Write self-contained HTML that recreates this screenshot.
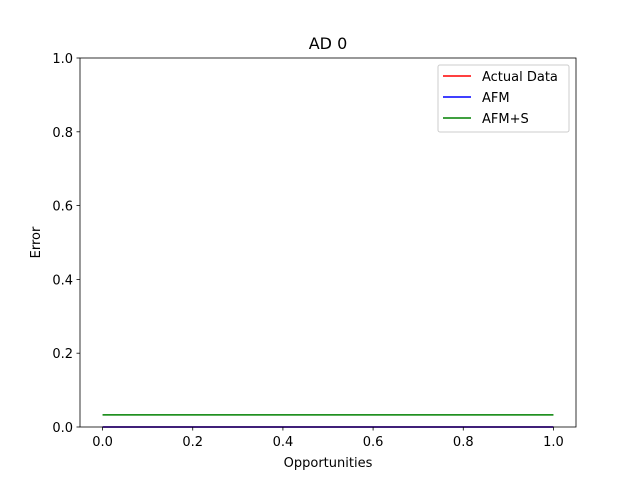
<!DOCTYPE html>
<html><head><meta charset="utf-8"><style>
body{margin:0;background:#fff;font-family:"Liberation Sans","DejaVu Sans",sans-serif}
svg text{font-family:"DejaVu Sans","Liberation Sans",sans-serif}
</style></head><body>
<svg id="chart" width="640" height="480" xmlns="http://www.w3.org/2000/svg">
<rect width="640" height="480" fill="#fff"/>
<g id="plot"></g>
</svg>
<script>
const xValues=[0,1];
const actualData=[0,0];
const afm=[0,0];
const afmS=[0.033,0.033];
const xTicks=[0,0.2,0.4,0.6,0.8,1.0];
const yTicks=[0,0.2,0.4,0.6,0.8,1.0];
const L=80,R=576,T=58,B=427;
const sx=v=>L+(v+0.05)/1.1*(R-L);
const sy=v=>B-v*(B-T);
const NS="http://www.w3.org/2000/svg";
const g=document.getElementById('plot');
function mk(tag,attrs,txt){const e=document.createElementNS(NS,tag);for(const k in attrs)e.setAttribute(k,attrs[k]);if(txt!==undefined)e.textContent=txt;g.appendChild(e);return e;}
const series=[[actualData,'#ff0000','line-actual-data'],[afm,'#0000ff','line-afm'],[afmS,'#008000','line-afm-s']];
series.forEach(s=>{const p=mk('polyline',{points:xValues.map((x,i)=>sx(x)+','+sy(s[0][i])).join(' '),fill:'none',stroke:s[1],'stroke-width':1.5});

});
const fr=mk('rect',{x:L,y:T,width:R-L,height:B-T,fill:'none',stroke:'#000','stroke-width':0.8});


xTicks.forEach(t=>{mk('line',{x1:sx(t),x2:sx(t),y1:B,y2:B+3.5,stroke:'#000','stroke-width':0.8});
const e=mk('text',{x:sx(t),y:B+19,'text-anchor':'middle','font-size':13},t.toFixed(1));

});
yTicks.forEach(t=>{mk('line',{x1:L-3.5,x2:L,y1:sy(t),y2:sy(t),stroke:'#000','stroke-width':0.8});
const e=mk('text',{x:L-7,y:sy(t)+5,'text-anchor':'end','font-size':13},t.toFixed(1));

});
let e=mk('text',{x:(L+R)/2,y:49,'text-anchor':'middle','font-size':16},'AD 0');


e=mk('text',{x:(L+R)/2,y:467,'text-anchor':'middle','font-size':13},'Opportunities');


e=mk('text',{x:40,y:(T+B)/2,'text-anchor':'middle','font-size':13,transform:'rotate(-90 40 '+((T+B)/2)+')'},'Error');


const lg=mk('rect',{x:438,y:65,width:131,height:67,fill:'#fff',stroke:'#ccc',rx:2});


[['Actual Data','#ff0000'],['AFM','#0000ff'],['AFM+S','#008000']].forEach((it,i)=>{const y=76+i*21;
mk('line',{x1:443,x2:471,y1:y,y2:y,stroke:it[1],'stroke-width':1.5});
const t=mk('text',{x:482,y:y+5,'font-size':13},it[0]);

});
</script>
</body></html>
